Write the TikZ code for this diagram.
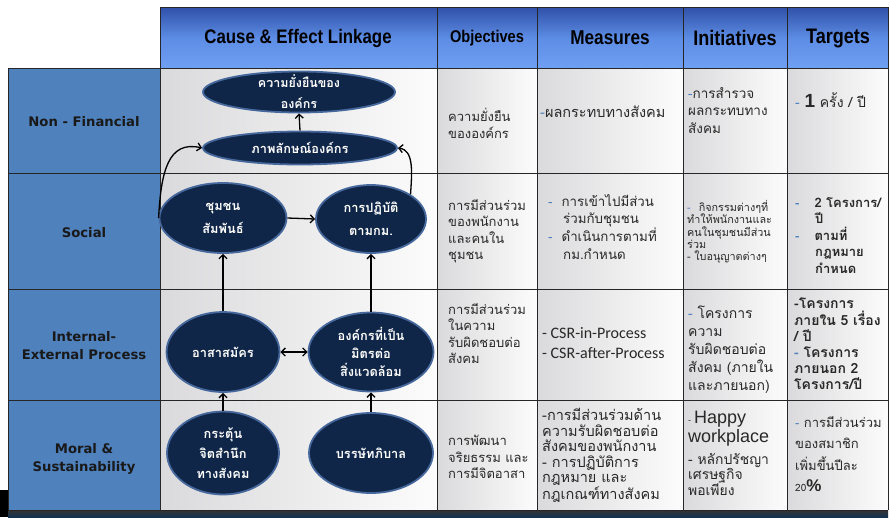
\documentclass[tikz,border=0pt]{standalone}
\usepackage{fontspec}
\newfontfamily\thaifont[Script=Thai]{Loma}
\newfontfamily\hdfont[FakeStretch=0.86]{Liberation Sans}
\newfontfamily\lblfont{DejaVu Sans}
\newfontfamily\calfont{Carlito}
\newfontfamily\arialfont{Liberation Sans}
\usetikzlibrary{shapes.geometric,arrows.meta}
\definecolor{hdtop}{RGB}{48,80,168}
\definecolor{hdmid}{RGB}{92,140,228}
\definecolor{hdbot}{RGB}{112,160,244}
\definecolor{lblue}{RGB}{79,129,189}
\definecolor{navy}{RGB}{16,38,72}
\definecolor{navyedge}{RGB}{70,104,156}
\definecolor{txt}{RGB}{40,40,40}
\definecolor{cellL}{RGB}{218,218,220}
\definecolor{cellR}{RGB}{252,252,252}
\definecolor{bul}{RGB}{79,129,189}
\tikzset{
  arr/.style={-{Straight Barb[length=4pt,width=8pt]}, line width=1.3pt, black},
  darr/.style={{Straight Barb[length=4pt,width=8pt]}-{Straight Barb[length=4pt,width=8pt]}, line width=1.3pt, black},
  bub/.style={ellipse, fill=navy, draw=navyedge, line width=1.8pt, inner sep=0pt},
  btxt/.style={text=white, font=\thaifont\bfseries\fontsize{12.8}{21}\selectfont, align=center, inner sep=0pt},
  hd/.style={font=\hdfont\bfseries\fontsize{20}{22}\selectfont, text=black, inner sep=0pt},
  lbl/.style={font=\lblfont\bfseries\fontsize{13.2}{18}\selectfont, text=black!90, align=center, inner sep=0pt},
  cellt/.style={anchor=north west, align=left, inner sep=0pt, text=txt, font=\thaifont\fontsize{13}{16.5}\selectfont},
  grid/.style={line width=0.9pt, black!85},
}
\newcommand{\bu}{\textcolor{bul}{-}}
\begin{document}
\begin{tikzpicture}[x=1pt,y=-1pt]
\useasboundingbox (0,0) rectangle (890,517);
\fill[white] (0,0) rectangle (890,517);
% header
\shade[top color=hdtop, bottom color=hdbot, middle color=hdmid] (160,7) rectangle (888,68);
% left column
\fill[lblue] (8,68) rectangle (160,510);
% cells
\foreach \ya/\yb in {68/173,173/289,289/400,400/510}{
  \shade[left color=cellL, right color=cellR] (160,\ya) rectangle (437,\yb);
  \shade[left color=cellL, right color=cellR] (437,\ya) rectangle (537,\yb);
  \shade[left color=cellL, right color=cellR] (537,\ya) rectangle (683,\yb);
  \shade[left color=cellL, right color=cellR] (683,\ya) rectangle (787,\yb);
  \shade[left color=cellL, right color=cellR] (787,\ya) rectangle (888,\yb);
}
% bottom strip
\shade[top color=black!80, bottom color={rgb,255:red,20;green,50;blue,80}] (8,510) rectangle (888,517);
\fill[black] (0,490) rectangle (8,517);
% grid
\foreach \y in {68,173,289,400,510}{ \draw[grid] (8,\y) -- (888,\y); }
\draw[grid] (160,7) -- (888,7);
\foreach \x in {160,437,537,683,787,888}{ \draw[grid] (\x,7) -- (\x,510); }
\draw[grid] (8,68) -- (8,510);

% header text
\node[hd, font=\hdfont\bfseries\fontsize{19.6}{22}\selectfont] (h1) at (298,38) {Cause \& Effect Linkage};
\node[hd, font=\hdfont\bfseries\fontsize{17}{20}\selectfont] (h2) at (487,38) {Objectives};
\node[hd] (h3) at (610,38) {Measures};
\node[hd, font=\hdfont\bfseries\fontsize{21}{22}\selectfont] (h4) at (735,38) {Initiatives};
\node[hd, font=\hdfont\bfseries\fontsize{21}{22}\selectfont] (h5) at (838,38) {Targets};

% left labels
\node[lbl] (l1) at (84,122) {Non - Financial};
\node[lbl] (l2) at (84,233) {Social};
\node[lbl] (l3) at (84,346) {Internal-\\External Process};
\node[lbl] (l4) at (84,459) {Moral \&\\Sustainability};

% bubbles
\node[bub, minimum width=192pt, minimum height=41pt] (e1) at (299,92) {};
\node[btxt, font=\thaifont\bfseries\fontsize{12.5}{21}\selectfont] (e1t) at (e1) {ความยั่งยืนของ\\องค์กร};
\node[bub, minimum width=194pt, minimum height=33pt] (e2) at (300,148) {};
\node[btxt] (e2t) at (e2) {ภาพลักษณ์องค์กร};
\node[bub, minimum width=127pt, minimum height=70pt] (e3) at (223,218) {};
\node[btxt, font=\thaifont\bfseries\fontsize{12.8}{23}\selectfont] (e3t) at (e3) {ชุมชน\\สัมพันธ์};
\node[bub, minimum width=110pt, minimum height=68pt] (e4) at (371,219) {};
\node[btxt, font=\thaifont\bfseries\fontsize{12.8}{23}\selectfont] (e4t) at (e4) {การปฏิบัติ\\ตามกม.};
\node[bub, minimum width=113pt, minimum height=80pt] (e5) at (223,352) {};
\node[btxt] (e5t) at (e5) {อาสาสมัคร};
\node[bub, minimum width=125pt, minimum height=79pt] (e6) at (371,352) {};
\node[btxt, font=\thaifont\bfseries\fontsize{12.8}{18}\selectfont] (e6t) at (e6) {องค์กรที่เป็น\\มิตรต่อ\\สิ่งแวดล้อม};
\node[bub, minimum width=112pt, minimum height=83pt] (e7) at (223,453) {};
\node[btxt, font=\thaifont\bfseries\fontsize{12.8}{20}\selectfont] (e7t) at (e7) {กระตุ้น\\จิตสำนึก\\ทางสังคม};
\node[bub, minimum width=124pt, minimum height=80pt] (e8) at (371,453) {};
\node[btxt] (e8t) at (e8) {บรรษัทภิบาล};

% connectors
\draw[arr] (e2.north) -- (e1.south);
\draw[arr] (e3.east) -- (e4.west);
\draw[arr] (e5.north) -- (e3.south);
\draw[arr] (e6.north) -- (e4.south);
\draw[arr] (e7.north) -- (e5.south);
\draw[arr] (e8.north) -- (e6.south);
\draw[darr] (e5.east) -- (e6.west);
\draw[arr] (e3.west) .. controls (161,172) and (168,140) .. (e2.west);
\draw[arr] (e4.north east) .. controls (412,172) and (414,150) .. (e2.east);

% objectives
\node[cellt] (o1) at (448,108) {ความยั่งยืน\\ขององค์กร};
\node[cellt] (o2) at (448,199) {การมีส่วนร่วม\\ของพนักงาน\\และคนใน\\ชุมชน};
\node[cellt] (o3) at (448,303) {การมีส่วนร่วม\\ในความ\\รับผิดชอบต่อ\\สังคม};
\node[cellt] (o4) at (448,435) {การพัฒนา\\จริยธรรม และ\\การมีจิตอาสา};

% measures
\node[cellt, font=\thaifont\fontsize{14.5}{17}\selectfont] (m1) at (540,106) {\bu ผลกระทบทางสังคม};
\node[cellt, font=\thaifont\fontsize{13.3}{17.8}\selectfont] (m2) at (548,194) {\bu\hspace{9pt}การเข้าไปมีส่วน\\\hspace*{15pt}ร่วมกับชุมชน\\\bu\hspace{9pt}ดำเนินการตามที่\\\hspace*{15pt}กม.กำหนด};
\node[cellt, font=\calfont\fontsize{16}{20}\selectfont] (m3) at (542,327) {- CSR-in-Process\\- CSR-after-Process};
\node[cellt, font=\thaifont\fontsize{14.5}{15.6}\selectfont] (m4) at (542,408) {-การมีส่วนร่วมด้าน\\ความรับผิดชอบต่อ\\สังคมของพนักงาน\\- การปฏิบัติการ\\กฎหมาย และ\\กฎเกณฑ์ทางสังคม};

% initiatives
\node[cellt, font=\thaifont\fontsize{13.5}{17.5}\selectfont] (i1) at (688,87) {\bu การสำรวจ\\ผลกระทบทาง\\สังคม};
\node[cellt, font=\thaifont\fontsize{10.8}{12.4}\selectfont] (i2) at (687,200) {\bu\hspace{8pt}กิจกรรมต่างๆที่\\ทำให้พนักงานและ\\คนในชุมชนมีส่วน\\ร่วม\\- ใบอนุญาตต่างๆ};
\node[cellt, font=\thaifont\fontsize{14}{18}\selectfont] (i3) at (688,306) {\bu\ โครงการ\\ความ\\รับผิดชอบต่อ\\สังคม (ภายใน\\และภายนอก)};
\node[cellt, font=\arialfont\fontsize{18}{19}\selectfont] (i4a) at (688,411) {{\fontsize{9}{18}\selectfont -}\,Happy\\workplace};
\node[cellt, font=\thaifont\fontsize{13.9}{15}\selectfont] (i4b) at (688,453) {- หลักปรัชญา\\เศรษฐกิจ\\พอเพียง};

% targets
\node[cellt, font=\thaifont\fontsize{14}{16.5}\selectfont] (t1) at (795,92) {\bu\ {\arialfont\bfseries\fontsize{19}{16}\selectfont 1} ครั้ง / ปี};
\node[cellt, font=\thaifont\bfseries\fontsize{13}{16.5}\selectfont] (t2) at (795,197) {\bu\hspace{15pt}2 โครงการ/\\\hspace*{20pt}ปี\\\bu\hspace{15pt}ตามที่\\\hspace*{20pt}กฎหมาย\\\hspace*{20pt}กำหนด};
\node[cellt, font=\thaifont\bfseries\fontsize{14}{16.2}\selectfont] (t3) at (794,298) {-โครงการ\\ภายใน 5 เรื่อง\\/ ปี\\\bu\ โครงการ\\ภายนอก 2\\โครงการ/ปี};
\node[cellt, font=\thaifont\fontsize{13}{21.5}\selectfont] (t4) at (795,416) {\bu\ การมีส่วนร่วม\\ของสมาชิก\\เพิ่มขึ้นปีละ\\{\fontsize{10}{21.5}\selectfont 20}{\arialfont\bfseries\fontsize{17}{21.5}\selectfont\%}};
\end{tikzpicture}
\end{document}
